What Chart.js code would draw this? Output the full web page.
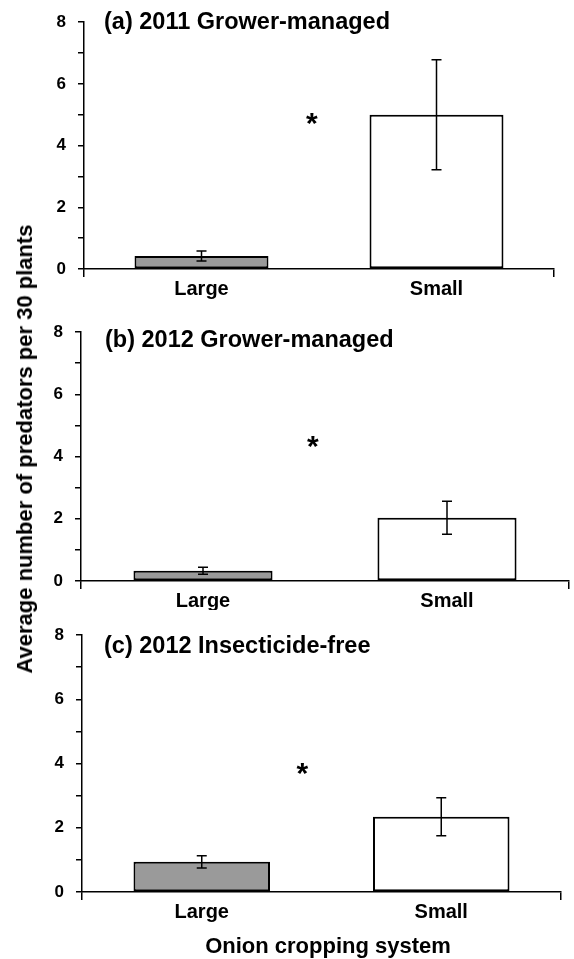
<!DOCTYPE html>
<html>
<head>
<meta charset="utf-8">
<script src="https://cdn.jsdelivr.net/npm/chart.js@4.4.1/dist/chart.umd.min.js"></script>
<style>
  html, body { margin: 0; padding: 0; background: #fff; }
  body { width: 574px; height: 959px; position: relative; overflow: hidden; font-family: 'Liberation Sans', Arial, sans-serif; }
  .panel { position: absolute; left: 0; width: 574px; }
  #yTitle {
    position: absolute; left: 25px; top: 449px; white-space: nowrap;
    transform: translate(-50%, -50%) rotate(-90deg);
    font-weight: bold; font-size: 22px; color: #000;
  }
  #xTitle {
    position: absolute; left: 328px; top: 946px; white-space: nowrap;
    transform: translate(-50%, -50%);
    font-weight: bold; font-size: 22px; color: #000;
  }
</style>
</head>
<body>
<div class="panel" id="boxA" style="top:0;height:300px"><canvas id="chartA"></canvas></div>
<div class="panel" id="boxB" style="top:300px;height:310px"><canvas id="chartB"></canvas></div>
<div class="panel" id="boxC" style="top:610px;height:349px"><canvas id="chartC"></canvas></div>
<div id="yTitle">Average number of predators per 30 plants</div>
<div id="xTitle">Onion cropping system</div>

<script>
// --- dados ---
const categories = ['Large', 'Small'];
const panelTitles = ['(a) 2011 Grower-managed', '(b) 2012 Grower-managed', '(c) 2012 Insecticide-free'];
const meansA = [0.42, 5.00];
const errorsA = [0.16, 1.78];
const meansB = [0.33, 2.03];
const errorsB = [0.11, 0.53];
const meansC = [0.94, 2.34];
const errorsC = [0.19, 0.59];
const starValues = [4.85, 4.47, 3.83];   // altura do asterisco (eixo y)
const starCategory = [0.47, 0.45, 0.42]; // posição entre Large (0) e Small (1)
const yMin = 0, yMax = 8, yStep = 1;

// --- layout de cada painel (pixels da página) ---
const panels = [
    { id: 'chartA', top: 0,   height: 300, left: 84, right: 554, plotTop: 22,  plotBottom: 269, titleX: 104, titleY: 21 },
    { id: 'chartB', top: 300, height: 310, left: 81, right: 569, plotTop: 332, plotBottom: 581, titleX: 105, titleY: 339 },
    { id: 'chartC', top: 610, height: 349, left: 82, right: 561, plotTop: 635, plotBottom: 892, titleX: 104, titleY: 645 }
];
const seriesMeans = [meansA, meansB, meansC];
const seriesErrors = [errorsA, errorsB, errorsC];

const FONT = "'Liberation Sans', Arial, sans-serif";
const INK = '#000';
const TITLE_SIZE = 23.5;

// barras de erro, asterisco e título do painel
const extrasPlugin = {
    id: 'extras',
    afterDatasetsDraw(chart, args, opts) {
        const ctx = chart.ctx;
        const y = chart.scales.y, x = chart.scales.x;
        const meta = chart.getDatasetMeta(0);
        ctx.save();
        ctx.strokeStyle = INK;
        ctx.lineWidth = 1.5;
        meta.data.forEach(function(bar, i) {
            const m = opts.means[i], e = opts.errors[i];
            const yHi = y.getPixelForValue(m + e), yLo = y.getPixelForValue(m - e);
            ctx.beginPath();
            ctx.moveTo(bar.x, yHi); ctx.lineTo(bar.x, yLo);
            ctx.moveTo(bar.x - 5, yHi); ctx.lineTo(bar.x + 5, yHi);
            ctx.moveTo(bar.x - 5, yLo); ctx.lineTo(bar.x + 5, yLo);
            ctx.stroke();
        });

        // asterisco
        ctx.fillStyle = INK;
        ctx.font = 'bold 30px ' + FONT;
        const sx = x.getPixelForValue(opts.starCat);
        const sy = y.getPixelForValue(opts.starVal);
        const mt = ctx.measureText('*');
        ctx.textAlign = 'center';
        ctx.textBaseline = 'alphabetic';
        ctx.fillText('*', sx, sy + (mt.actualBoundingBoxAscent - mt.actualBoundingBoxDescent) / 2);

        // título do painel
        ctx.font = 'bold ' + TITLE_SIZE + 'px ' + FONT;
        ctx.textAlign = 'left';
        ctx.fillText(opts.title, opts.titleX, opts.titleY + TITLE_SIZE * 0.36);
        ctx.restore();
    }
};

panels.forEach(function(p, k) {
    const canvas = document.getElementById(p.id);
    new Chart(canvas.getContext('2d'), {
        type: 'bar',
        data: {
            labels: categories,
            datasets: [{
                data: seriesMeans[k],
                backgroundColor: ['#9a9a9a', '#ffffff'],
                borderColor: INK,
                borderWidth: 2,
                borderSkipped: false,
                categoryPercentage: 1,
                barPercentage: 0.57
            }]
        },
        options: {
            responsive: true,
            maintainAspectRatio: false,
            animation: false,
            events: [],
            layout: { padding: { top: p.plotTop - p.top, right: 574 - p.right, left: 0, bottom: 0 } },
            plugins: {
                legend: { display: false },
                tooltip: { enabled: false },
                extras: {
                    means: seriesMeans[k], errors: seriesErrors[k],
                    starVal: starValues[k], starCat: starCategory[k],
                    title: panelTitles[k], titleX: p.titleX, titleY: p.titleY - p.top
                }
            },
            scales: {
                x: {
                    afterFit: function(scale) { scale.height = p.top + p.height - p.plotBottom; },
                    border: { display: true, color: INK, width: 1.5 },
                    grid: {
                        offset: true,
                        drawOnChartArea: false,
                        drawTicks: true,
                        tickLength: 8,
                        lineWidth: 1.5,
                        color: function(c) { return c.index === 1 ? 'rgba(0,0,0,0)' : INK; }
                    },
                    ticks: { color: INK, padding: 0, font: { family: FONT, size: 20, weight: 'bold' } }
                },
                y: {
                    min: yMin,
                    max: yMax,
                    afterFit: function(scale) { scale.width = p.left; },
                    border: { display: true, color: INK, width: 1.5 },
                    grid: { drawOnChartArea: false, drawTicks: true, tickLength: 6, lineWidth: 1.5, color: INK },
                    ticks: {
                        stepSize: yStep,
                        color: INK,
                        padding: 12,
                        font: { family: FONT, size: 17, weight: 'bold' },
                        callback: function(v) { return v % 2 === 0 ? v : ''; }
                    }
                }
            }
        },
        plugins: [extrasPlugin]
    });
});
</script>
</body>
</html>
